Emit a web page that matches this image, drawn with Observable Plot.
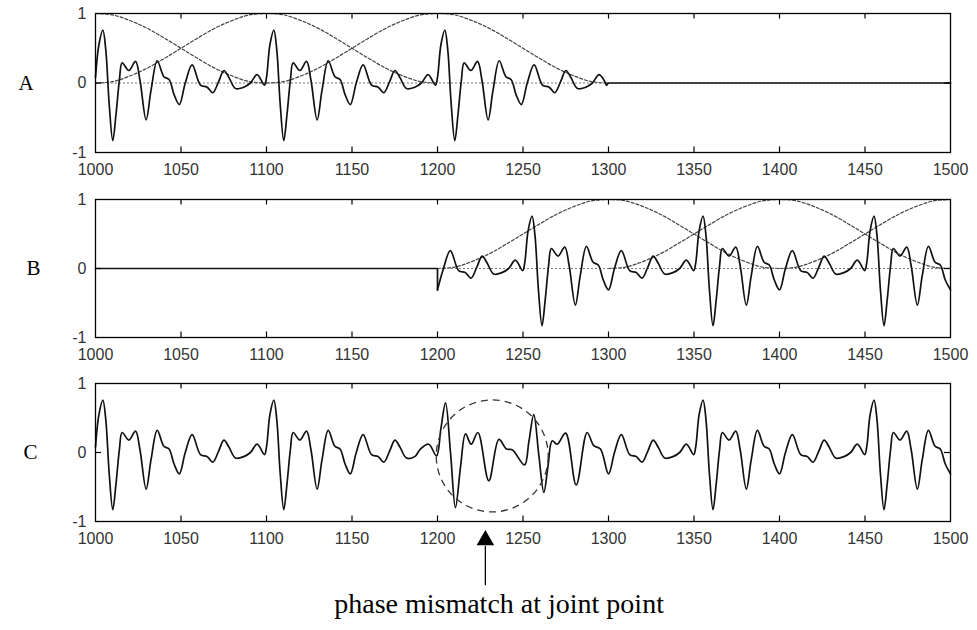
<!DOCTYPE html>
<html>
<head>
<meta charset="utf-8">
<script src="https://cdn.jsdelivr.net/npm/d3@7"></script>
<script src="https://cdn.jsdelivr.net/npm/@observablehq/plot@0.6"></script>
<style>
  html, body { margin: 0; padding: 0; background: #fff; }
  #chart { width: 977px; height: 630px; position: relative; }
  #chart svg { display: block; }
</style>
</head>
<body>
<div id="chart"></div>
<script>
// ---- data ----
// one period of the waveform (offset within the 100-sample period, value), read from panel C 1000–1100
const periodOffset = [0, 2, 4.3, 6, 8, 10.1, 12, 14, 15.6, 19.5, 23.4, 26, 29.6, 32.5, 36.1, 40, 43, 46, 49, 52.5, 56.5, 61.4, 65.3, 68.6, 72, 75.1, 78, 81.9, 86.7, 90.6, 94.5, 98.8];
const periodValue  = [0.08, 0.55, 0.76, 0.48, -0.3, -0.83, -0.45, 0.05, 0.29, 0.18, 0.31, 0.04, -0.53, -0.1, 0.32, 0.09, 0.05, -0.17, -0.31, 0.0, 0.26, -0.03, -0.06, -0.14, 0.02, 0.18, 0.08, -0.08, -0.06, 0.0, 0.12, -0.03];

// period start positions of each segment
const periodStartsA = [1000, 1100, 1200];
const periodStartsB = [1151, 1251, 1351, 1451];
const periodStartsCHead = [1000, 1100];
const periodStartsCTail = [1251, 1351, 1451];

// silent (zero) stretches of panels A and B
const silenceA = [{x: 1298.8, y: -0.03}, {x: 1300, y: 0}, {x: 1500, y: 0}];
const silenceB = [{x: 1000, y: 0}, {x: 1200, y: 0}, {x: 1200, y: -0.31}];

// panel C around the joint (overlap-add region), read directly
const crossX = [1190, 1194.9, 1199.4, 1202, 1204.7, 1207.6, 1210.5, 1213.5, 1216.4, 1219.7, 1223.6, 1230, 1235.9, 1240.4, 1243.7, 1250.9, 1253.4, 1256.3, 1259.3, 1262.2, 1264.6, 1267.1, 1270, 1274.9, 1281.1, 1287.5, 1291.4, 1295.3];
const crossY = [0.05, 0.12, -0.05, 0.35, 0.72, 0.0, -0.8, -0.2, 0.27, 0.12, 0.29, -0.41, 0.19, 0.05, 0.04, -0.18, 0.15, 0.55, -0.05, -0.58, -0.2, 0.17, 0.12, 0.28, -0.47, 0.29, 0.1, 0.05];

// Hanning window shape (offset from centre, value)
const windowOffset = [-100, -90, -80, -70, -60, -50, -40, -30, -20, -10, 0, 10, 20, 30, 40, 50, 60, 70, 80, 90, 100];
const windowValue  = [0, 0.02, 0.1, 0.21, 0.35, 0.5, 0.65, 0.79, 0.9, 0.98, 1, 0.98, 0.9, 0.79, 0.65, 0.5, 0.35, 0.21, 0.1, 0.02, 0];
const windowCentersA = [1000, 1100, 1200];
const windowCentersB = [1300, 1400, 1500];

// axes
const xTicks = [1000, 1050, 1100, 1150, 1200, 1250, 1300, 1350, 1400, 1450, 1500];
const yTicks = [-1, 0, 1];
const panelLabels = ["A", "B", "C"];
const jointX = 1228;
const circleCenter = [{x: 1232, y: -0.05}];
const noteText = "phase mismatch at joint point";

// ---- build series ----
function tile(starts, lo, hi) {
  const pts = [];
  for (const s of starts)
    for (let i = 0; i < periodOffset.length; i++) {
      const x = s + periodOffset[i];
      if (x >= lo && x <= hi) pts.push({x, y: periodValue[i]});
    }
  return pts;
}
function windows(centers) {
  const pts = [];
  for (const c of centers)
    for (let i = 0; i < windowOffset.length; i++) {
      const x = c + windowOffset[i];
      if (x >= 1000 && x <= 1500) pts.push({x, y: windowValue[i], c});
    }
  return pts;
}

const seriesA = tile(periodStartsA, 1000, 1299);
const seriesB = tile(periodStartsB, 1200, 1500);
const seriesC = [
  ...tile(periodStartsCHead, 1000, 1188),
  ...crossX.map((x, i) => ({x, y: crossY[i]})),
  ...tile(periodStartsCTail, 1298, 1500)
];

// ---- drawing ----
const TL = 0.08; // inward tick length in y units
const font = "'Liberation Sans', Arial, sans-serif";
const serif = "'Liberation Serif', 'Times New Roman', serif";

function panel({height, marginTop, marginBottom, label, labelDx, signal, silence, wins, extra = []}) {
  const marks = [];
  if (wins) {
    marks.push(Plot.line(wins, {x: "x", y: "y", z: "c", stroke: "#444", strokeWidth: 1.2, strokeDasharray: "3,2", curve: "catmull-rom"}));
    marks.push(Plot.ruleY([0], {stroke: "#777", strokeWidth: 1, strokeDasharray: "2,2"}));
  }
  if (silence) marks.push(Plot.line(silence, {x: "x", y: "y", stroke: "#111", strokeWidth: 1.7}));
  marks.push(Plot.line(signal, {x: "x", y: "y", stroke: "#111", strokeWidth: 1.7, curve: "catmull-rom"}));
  marks.push(Plot.ruleX(xTicks.slice(1, -1), {y1: -1, y2: -1 + TL, stroke: "#000", strokeWidth: 1.2}));
  marks.push(Plot.ruleX(xTicks.slice(1, -1), {y1: 1, y2: 1 - TL, stroke: "#000", strokeWidth: 1.2}));
  marks.push(Plot.ruleY([0], {x1: 1000, x2: 1003.5, stroke: "#000", strokeWidth: 1.2}));
  marks.push(Plot.ruleY([0], {x1: 1496.5, x2: 1500, stroke: "#000", strokeWidth: 1.2}));
  marks.push(Plot.frame({stroke: "#000", strokeWidth: 1.3}));
  marks.push(Plot.text([label], {text: d => d, frameAnchor: "left", y: () => 0, dx: labelDx, fontFamily: serif, fontSize: 21, fill: "#000"}));
  marks.push(...extra);
  return Plot.plot({
    width: 977,
    height,
    marginLeft: 95,
    marginRight: 27,
    marginTop,
    marginBottom,
    style: {fontFamily: font, fontSize: "16px", color: "#333", background: "#fff", overflow: "visible"},
    x: {domain: [1000, 1500], ticks: xTicks, tickSize: 0, tickPadding: 11, tickFormat: d => String(d), label: null},
    y: {domain: [-1, 1], ticks: yTicks, tickSize: 0, tickPadding: 9, tickFormat: d => String(d), label: null},
    marks
  });
}

const chart = document.getElementById("chart");
chart.append(panel({height: 185, marginTop: 13, marginBottom: 33, label: panelLabels[0], labelDx: -77, signal: seriesA, silence: silenceA, wins: windows(windowCentersA)}));
chart.append(panel({height: 185, marginTop: 14, marginBottom: 33, label: panelLabels[1], labelDx: -69, signal: seriesB, silence: silenceB, wins: windows(windowCentersB)}));
chart.append(panel({
  height: 260, marginTop: 13, marginBottom: 109, label: panelLabels[2], labelDx: -72, signal: seriesC,
  extra: [
    Plot.dot(circleCenter, {x: "x", y: "y", r: 56, stroke: "#333", strokeWidth: 1.3, strokeDasharray: "7,5", fill: "none"}),
    Plot.ruleX([jointX], {y1: -1.36, y2: -1.93, stroke: "#000", strokeWidth: 1.3}),
    Plot.dot([jointX], {x: d => d, y: () => -1.27, symbol: "triangle", r: 6.5, fill: "#000", stroke: "none"}),
    Plot.text([noteText], {text: d => d, x: () => 1236, frameAnchor: "bottom", dy: 91, fontFamily: serif, fontSize: 28, fill: "#000"})
  ]
}));
</script>
</body>
</html>
